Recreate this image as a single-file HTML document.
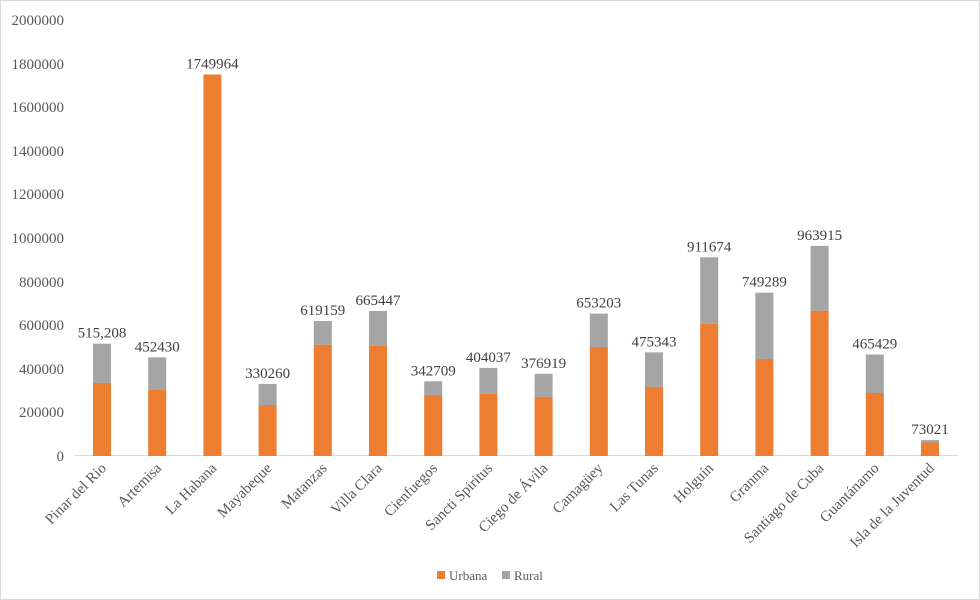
<!DOCTYPE html>
<html><head><meta charset="utf-8"><style>
body{margin:0;background:#fff}
svg{display:block;font-family:"Liberation Serif",serif}
</style></head><body>
<svg width="980" height="600" xmlns="http://www.w3.org/2000/svg">
<rect x="0.5" y="0.5" width="979" height="599" fill="#fff" stroke="#d9d9d9"/>
<g font-size="15" fill="#595959" text-anchor="end">
<text x="64" y="461">0</text>
<text x="64" y="417">200000</text>
<text x="64" y="374">400000</text>
<text x="64" y="330">600000</text>
<text x="64" y="287">800000</text>
<text x="64" y="243">1000000</text>
<text x="64" y="199">1200000</text>
<text x="64" y="156">1400000</text>
<text x="64" y="112">1600000</text>
<text x="64" y="69">1800000</text>
<text x="64" y="25">2000000</text>
</g>
<line x1="75" y1="455.5" x2="958" y2="455.5" stroke="#d9d9d9"/>
<g id="bars"></g>
<g font-size="15" fill="#404040" text-anchor="middle" id="vals"></g>
<g font-size="15" fill="#595959" text-anchor="end" id="cats"></g>
<rect x="437" y="571" width="8" height="8" fill="#ed7d31"/>
<text x="449" y="580" font-size="13" fill="#595959">Urbana</text>
<rect x="502" y="571" width="8" height="8" fill="#a5a5a5"/>
<text x="514" y="580" font-size="13" fill="#595959">Rural</text>
</svg>
<script>
var d=[["Pinar del Rio",335000,515208,"515,208"],["Artemisa",303000,452430],["La Habana",1749964,1749964],["Mayabeque",234000,330260],["Matanzas",510000,619159],["Villa Clara",505000,665447],["Cienfuegos",280000,342709],["Sancti Spiritus",285000,404037],["Ciego de Ávila",271000,376919],["Camagüey",500000,653203],["Las Tunas",317000,475343],["Holguín",606000,911674],["Granma",445000,749289],["Santiago de Cuba",666000,963915],["Guantánamo",289000,465429],["Isla de la Juventud",62000,73021]];
var ns="http://www.w3.org/2000/svg";
function el(t,a,p,txt){var e=document.createElementNS(ns,t);for(var k in a)e.setAttribute(k,a[k]);if(txt)e.textContent=txt;document.getElementById(p).appendChild(e);}
function Y(v){return 456-v/2000000*436;}
d.forEach(function(r,i){var cx=102+i*55.2;
var yu=Y(r[1]),yt=Y(r[2]);
if(r[2]>r[1])el("rect",{x:cx-9,y:yt,width:18,height:yu-yt,fill:"#a5a5a5"},"bars");
el("rect",{x:cx-9,y:yu,width:18,height:456-yu,fill:"#ed7d31"},"bars");
el("text",{x:cx,y:yt-6},"vals",r[3]||String(r[2]));
el("text",{x:cx+5,y:469,transform:"rotate(-45 "+(cx+5)+" 469)"},"cats",r[0]);
});
</script>
</body></html>
